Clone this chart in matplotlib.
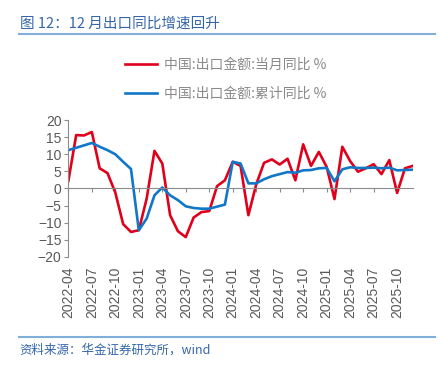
import matplotlib.pyplot as plt
import pandas as pd
from matplotlib.lines import Line2D

plt.rcParams['font.family'] = ['Liberation Sans', 'Noto Sans CJK SC', 'DejaVu Sans']

months = [p.strftime('%Y-%m') for p in pd.period_range('2022-04', '2025-12', freq='M')]

# 中国:出口金额:当月同比 %
monthly = [2.2, 15.6, 15.5, 16.5, 5.9, 4.5, -1.2, -10.4, -12.7,
           -12.2, -3.0, 11.0, 7.3, -7.8, -12.5, -14.2, -8.5, -6.9, -6.6, 0.7, 2.4,
           7.8, 6.6, -7.8, 1.2, 7.5, 8.5, 7.0, 8.7, 2.4, 12.9, 6.6, 10.7,
           6.3, -3.1, 12.2, 8.0, 4.9, 5.9, 7.1, 4.2, 8.3, -1.3, 5.9, 6.6]
# 中国:出口金额:累计同比 %
cumulative = [11.2, 11.9, 12.6, 13.3, 12.2, 11.2, 10.0, 7.8, 5.7,
              -12.2, -8.8, -2.0, 0.3, -2.0, -3.4, -5.2, -5.7, -5.9, -5.9, -5.3, -4.7,
              7.8, 7.3, 1.5, 1.5, 2.7, 3.6, 4.2, 4.8, 4.6, 5.3, 5.4, 5.9,
              6.0, 2.1, 5.6, 6.2, 6.0, 6.0, 6.1, 5.9, 6.1, 5.3, 5.4, 5.5]

red = '#e0001b'
blue = '#1177c8'
gray = '#595959'
title_blue = '#3566a8'

fig = plt.figure(figsize=(4.41, 3.66), dpi=100)
ax = fig.add_axes([0.155, 0.298, 0.781, 0.374])

x = range(len(months))
l1, = ax.plot(x, monthly, color=red, lw=1.9, label='中国:出口金额:当月同比 %')
l2, = ax.plot(x, cumulative, color=blue, lw=1.9, label='中国:出口金额:累计同比 %')

ax.set_xlim(0, len(months) - 1)
ax.set_ylim(-20, 20)
ax.set_yticks(range(-20, 21, 5))
ax.tick_params(axis='y', direction='out', length=3, color='#8c8c8c', labelsize=10, labelcolor=gray, pad=2)

for s in ['top', 'right']:
    ax.spines[s].set_visible(False)
ax.spines['left'].set_color('#8c8c8c')
ax.spines['bottom'].set_position(('data', 0))
ax.spines['bottom'].set_color('#8c8c8c')
ticks = list(range(0, len(months), 3))
ax.set_xticks(ticks)
ax.tick_params(axis='x', direction='out', length=3, color='#8c8c8c', labelbottom=False)

sec = ax.secondary_xaxis('bottom')
sec.set_xticks(ticks)
sec.set_xticklabels([months[i] for i in ticks], rotation=90)
sec.tick_params(length=0, labelsize=10, labelcolor=gray, pad=7)
sec.spines['bottom'].set_visible(False)

leg_font = {'family': ['Noto Sans CJK SC', 'DejaVu Sans'], 'size': 10}
fig.legend(handles=[l1, l2], loc='upper left', bbox_to_anchor=(0.256, 0.875),
           frameon=False, prop=leg_font, labelcolor='#8a8a8a',
           handlelength=2.3, handletextpad=0.45, labelspacing=1.05)

fig.text(0.045, 0.934, '图 12：12 月出口同比增速回升', color=title_blue, fontsize=10.5,
         family=['Noto Sans CJK SC', 'DejaVu Sans'], va='center', ha='left')
fig.add_artist(Line2D([0.043, 0.986], [0.907, 0.907], color='#7fb0dc', lw=1.5))
fig.add_artist(Line2D([0.043, 0.986], [0.079, 0.079], color='#7fb0dc', lw=1.5))
fig.text(0.045, 0.044, '资料来源：华金证券研究所，wind', color=title_blue, fontsize=9,
         family=['Noto Sans CJK SC', 'DejaVu Sans'], style='italic', va='center', ha='left')

fig.savefig('out.png', dpi=100)
